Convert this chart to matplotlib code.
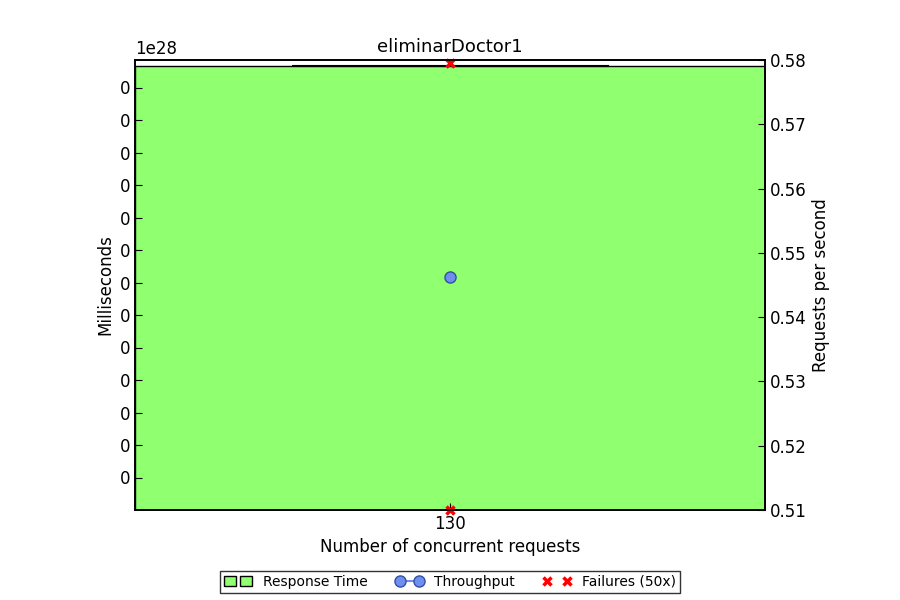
import matplotlib
matplotlib.use("Agg")
import matplotlib.pyplot as plt
import numpy as np
from matplotlib.patches import Rectangle
from matplotlib.lines import Line2D

concurrency = [130]
response_time = [1.366e28]
throughput = [0.5462]
failures = [0.5795, 0.51]

fig = plt.figure(figsize=(9, 6), dpi=100)
ax = fig.add_axes([0.15, 0.15, 0.70, 0.75])
ax2 = ax.twinx()

xlo, xhi = 80, 180
ax.fill_between([xlo, xhi], [0, 0], [response_time[0]] * 2, color="#90ff70", edgecolor="black", linewidth=1)
ax.plot([105, 155], [response_time[0] * 1.001] * 2, color="black", linewidth=1.5)
ymax = response_time[0] * 450 / 444
ax.set_ylim(0, ymax)
ax.set_xlim(xlo, xhi)
step = response_time[0] * 32.5 / 444
ax.set_yticks([step * k for k in range(1, 14)])
ax.set_yticklabels(["0"] * 13)
ax.set_xticks(concurrency)
ax.text(0, 1.005, "1e28", transform=ax.transAxes, fontsize=12, va="bottom")
ax.set_xlabel("Number of concurrent requests", fontsize=12)
ax.set_ylabel("Milliseconds", fontsize=12)
ax.set_title("eliminarDoctor1", fontsize=13)

ax2.plot(concurrency, throughput, "o-", color="#6f8ff0", markersize=8, markeredgecolor="#3050a0")
ax2.plot(concurrency * 2, failures, "x", color="red", markersize=6, mew=2.5, clip_on=False)
ax2.set_ylim(0.51, 0.58)
ax2.set_yticks(np.arange(0.51, 0.5801, 0.01))
ax2.set_yticklabels([f"{v:.2f}" for v in np.arange(0.51, 0.5801, 0.01)])
ax2.set_ylabel("Requests per second", fontsize=12)

for a in (ax, ax2):
    a.tick_params(labelsize=12, direction="in", length=5)
    for s in a.spines.values():
        s.set_linewidth(1.2)

handles = [
    (Rectangle((0, 0), 1, 1, facecolor="#90ff70", edgecolor="black"),
     Rectangle((0, 0), 1, 1, facecolor="#90ff70", edgecolor="black")),
    Line2D([], [], marker="o", color="#6f8ff0", markersize=8, markeredgecolor="#3050a0"),
    Line2D([], [], marker="x", color="red", linestyle="none", markersize=6, mew=2.5),
]
from matplotlib.legend_handler import HandlerTuple
leg = fig.legend(handles, ["Response Time", "Throughput", "Failures (50x)"], loc="lower center",
                 bbox_to_anchor=(0.5, 0.0), ncol=3, fontsize=10, fancybox=False, numpoints=2,
                 handler_map={tuple: HandlerTuple(ndivide=None)}, borderpad=0.3)
leg.get_frame().set_edgecolor("black")
fig.savefig("out.png")
